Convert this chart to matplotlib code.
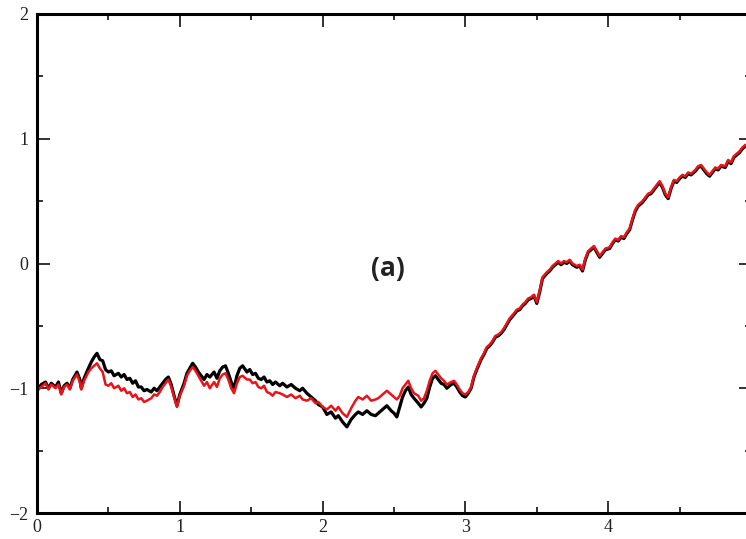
import matplotlib
matplotlib.use("Agg")
import matplotlib.pyplot as plt
from matplotlib.ticker import MultipleLocator

# x positions (data units)
x = [0.00, 0.03, 0.06, 0.08, 0.10, 0.13, 0.15, 0.17, 0.19, 0.21, 0.23, 0.25, 0.28, 0.30, 0.31,
     0.33, 0.36, 0.38, 0.40, 0.42, 0.44, 0.46, 0.48, 0.50, 0.52, 0.54, 0.57, 0.59, 0.61, 0.63,
     0.65, 0.67, 0.69, 0.71, 0.73, 0.75, 0.77, 0.80, 0.82, 0.84, 0.86, 0.88, 0.90, 0.92, 0.94,
     0.96, 0.98, 1.00, 1.03, 1.05, 1.07, 1.09, 1.11, 1.13, 1.15, 1.17, 1.19, 1.21, 1.24, 1.26,
     1.28, 1.30, 1.32, 1.34, 1.36, 1.38, 1.40, 1.42, 1.44, 1.47, 1.49, 1.51, 1.53, 1.55, 1.57,
     1.59, 1.61, 1.63, 1.65, 1.67, 1.70, 1.72, 1.75, 1.78, 1.81, 1.84, 1.86, 1.89, 1.92, 1.95,
     1.97, 2.00, 2.03, 2.06, 2.09, 2.11, 2.14, 2.17, 2.20, 2.23, 2.25, 2.28, 2.31, 2.34, 2.37,
     2.39, 2.42, 2.45, 2.48, 2.50, 2.52, 2.54, 2.56, 2.58, 2.60, 2.62, 2.64, 2.67, 2.69, 2.71,
     2.73, 2.75, 2.77, 2.79, 2.81, 2.83, 2.85, 2.87, 2.90, 2.92, 2.94, 2.96, 2.98, 3.00, 3.02,
     3.04, 3.06, 3.08, 3.11, 3.13, 3.15, 3.17, 3.19, 3.21, 3.23, 3.25, 3.27, 3.29, 3.31, 3.34,
     3.36, 3.38, 3.40, 3.42, 3.44, 3.46, 3.48, 3.50, 3.52, 3.54, 3.57, 3.59, 3.61, 3.63, 3.65,
     3.67, 3.69, 3.71, 3.73, 3.75, 3.78, 3.80, 3.82, 3.84, 3.86, 3.88, 3.90, 3.92, 3.94, 3.96,
     3.98, 4.01, 4.03, 4.05, 4.07, 4.09, 4.11, 4.13, 4.15, 4.17, 4.19, 4.21, 4.24, 4.26, 4.28,
     4.30, 4.32, 4.34, 4.36, 4.38, 4.40, 4.42, 4.44, 4.46, 4.48, 4.50, 4.52, 4.54, 4.56, 4.58,
     4.61, 4.63, 4.65, 4.67, 4.69, 4.71, 4.73, 4.75, 4.77, 4.79, 4.82, 4.84, 4.86, 4.88, 4.90,
     4.92, 4.94, 4.96, 5.00]

black = [-1.02, -0.97, -0.95, -1.00, -0.96, -0.99, -0.95, -1.04, -0.98, -0.96, -1.00, -0.93, -0.87, -0.93, -1.00,
         -0.92, -0.84, -0.79, -0.75, -0.72, -0.77, -0.78, -0.85, -0.87, -0.86, -0.90, -0.88, -0.91, -0.89, -0.93,
         -0.92, -0.96, -0.94, -0.99, -0.99, -1.02, -1.01, -1.03, -1.00, -1.02, -0.99, -0.96, -0.93, -0.91, -0.97,
         -1.06, -1.14, -1.05, -0.96, -0.88, -0.84, -0.80, -0.83, -0.87, -0.90, -0.93, -0.89, -0.91, -0.87, -0.92,
         -0.86, -0.83, -0.82, -0.88, -0.95, -1.00, -0.90, -0.84, -0.82, -0.87, -0.85, -0.89, -0.88, -0.92, -0.93,
         -0.91, -0.95, -0.94, -0.97, -0.95, -0.98, -0.96, -0.99, -0.97, -1.00, -1.02, -1.00, -1.04, -1.07, -1.10,
         -1.13, -1.15, -1.21, -1.19, -1.24, -1.22, -1.27, -1.31, -1.25, -1.21, -1.19, -1.21, -1.18, -1.21, -1.22,
         -1.20, -1.17, -1.14, -1.18, -1.20, -1.23, -1.15, -1.07, -1.02, -0.99, -1.05, -1.08, -1.12, -1.15, -1.12,
         -1.08, -0.99, -0.92, -0.90, -0.93, -0.96, -0.97, -1.00, -0.97, -0.96, -0.99, -1.03, -1.06, -1.07, -1.04,
         -1.00, -0.91, -0.85, -0.77, -0.73, -0.68, -0.66, -0.63, -0.59, -0.58, -0.56, -0.53, -0.49, -0.45, -0.41,
         -0.38, -0.37, -0.34, -0.32, -0.29, -0.28, -0.26, -0.32, -0.23, -0.12, -0.08, -0.06, -0.03, -0.01, 0.01,
         -0.01, 0.01, 0.00, 0.02, -0.01, -0.03, -0.02, -0.06, 0.03, 0.09, 0.11, 0.13, 0.09, 0.05, 0.08,
         0.11, 0.12, 0.16, 0.19, 0.18, 0.21, 0.20, 0.24, 0.27, 0.35, 0.42, 0.46, 0.49, 0.52, 0.55,
         0.56, 0.59, 0.62, 0.65, 0.61, 0.55, 0.52, 0.60, 0.66, 0.65, 0.68, 0.70, 0.69, 0.72, 0.71,
         0.74, 0.77, 0.78, 0.75, 0.72, 0.70, 0.73, 0.76, 0.75, 0.78, 0.77, 0.82, 0.80, 0.85, 0.87,
         0.89, 0.92, 0.94, 0.95]

red = [-1.02, -0.99, -0.96, -1.01, -0.97, -1.00, -0.97, -1.05, -0.99, -0.97, -1.01, -0.94, -0.89, -0.95, -1.01,
       -0.94, -0.87, -0.84, -0.82, -0.80, -0.84, -0.87, -0.97, -0.98, -0.96, -1.00, -0.98, -1.02, -1.00, -1.04,
       -1.03, -1.07, -1.05, -1.09, -1.08, -1.11, -1.10, -1.08, -1.05, -1.06, -1.03, -0.99, -0.96, -0.93, -0.99,
       -1.07, -1.15, -1.06, -0.98, -0.90, -0.86, -0.83, -0.86, -0.90, -0.94, -0.98, -0.95, -1.00, -0.95, -0.99,
       -0.92, -0.89, -0.88, -0.93, -1.00, -1.04, -0.96, -0.91, -0.90, -0.93, -0.93, -0.96, -0.95, -0.99, -1.00,
       -0.98, -1.03, -1.04, -1.06, -1.03, -1.04, -1.05, -1.07, -1.05, -1.08, -1.06, -1.09, -1.10, -1.08, -1.12,
       -1.11, -1.15, -1.17, -1.14, -1.18, -1.15, -1.20, -1.23, -1.16, -1.10, -1.07, -1.09, -1.06, -1.10, -1.09,
       -1.08, -1.05, -1.02, -1.05, -1.07, -1.09, -1.06, -1.00, -0.97, -0.94, -1.00, -1.04, -1.06, -1.10, -1.08,
       -1.02, -0.94, -0.88, -0.86, -0.89, -0.92, -0.94, -0.97, -0.95, -0.94, -0.97, -1.01, -1.04, -1.05, -1.03,
       -0.99, -0.90, -0.84, -0.76, -0.72, -0.67, -0.65, -0.62, -0.58, -0.57, -0.55, -0.52, -0.48, -0.44, -0.40,
       -0.37, -0.36, -0.33, -0.31, -0.28, -0.27, -0.25, -0.31, -0.22, -0.11, -0.07, -0.05, -0.02, 0.00, 0.02,
       0.00, 0.02, 0.01, 0.03, 0.00, -0.02, -0.01, -0.05, 0.04, 0.10, 0.12, 0.14, 0.10, 0.06, 0.09,
       0.12, 0.13, 0.17, 0.20, 0.19, 0.22, 0.21, 0.25, 0.28, 0.36, 0.43, 0.47, 0.50, 0.53, 0.56,
       0.57, 0.60, 0.63, 0.66, 0.62, 0.56, 0.53, 0.61, 0.67, 0.66, 0.69, 0.71, 0.70, 0.73, 0.72,
       0.75, 0.78, 0.79, 0.76, 0.73, 0.71, 0.74, 0.77, 0.76, 0.79, 0.78, 0.83, 0.81, 0.86, 0.88,
       0.90, 0.93, 0.95, 0.96]

xticks = [0, 1, 2, 3, 4]
yticks = [-2, -1, 0, 1, 2]
label_text = "(a)"

fig = plt.figure(figsize=(7.46, 5.39), dpi=100)
ax = fig.add_axes([37 / 746, 26 / 539, 714 / 746, 499 / 539])

ax.plot(x, black, color="black", lw=2.3)
ax.plot(x, red, color="#e8141a", lw=1.8)

ax.set_xlim(0, 5)
ax.set_ylim(-2, 2)
ax.set_xticks(xticks)
ax.set_yticks(yticks)
ax.xaxis.set_minor_locator(MultipleLocator(0.5))
ax.yaxis.set_minor_locator(MultipleLocator(0.5))
ax.tick_params(which="both", direction="in", top=True, right=True, width=1.3, color="#222222")
ax.tick_params(which="major", length=9)
ax.tick_params(which="minor", length=4.5)
ax.tick_params(axis="x", which="major", pad=4)
ax.tick_params(axis="y", which="major", pad=6)
for lab in ax.get_xticklabels() + ax.get_yticklabels():
    lab.set_fontfamily("Liberation Serif")
    lab.set_fontsize(13)
    lab.set_color("#222222")
for s in ax.spines.values():
    s.set_linewidth(2.2)

ax.text(2.46, -0.04, label_text, ha="center", va="center", fontsize=19,
        fontfamily="Open Sans", fontweight="bold", color="#222222")

fig.savefig("out.png", dpi=100)
